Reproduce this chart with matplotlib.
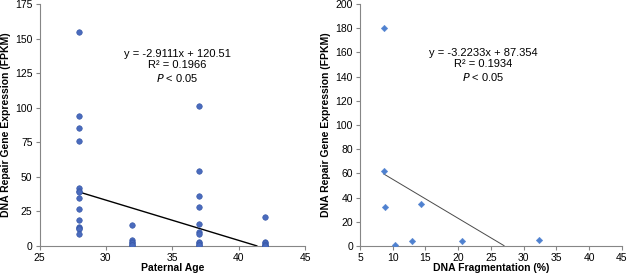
import matplotlib

matplotlib.use("Agg")
import matplotlib.pyplot as plt
import numpy as np

plt.rcParams["font.family"] = ["Liberation Sans", "DejaVu Sans"]

# left panel: paternal age vs expression
age_x = [28] * 14 + [32] * 6 + [37] * 11 + [42] * 6
age_y = [155, 94, 85, 76, 42, 40, 39, 35, 27, 19, 14, 13, 12, 9,
         15, 4, 3, 2, 1, 0.5,
         101, 54, 36, 28, 16, 10, 9, 3, 2, 1, 0.5,
         21, 3, 2, 1, 0.5, 0]
age_fit = (-2.9111, 120.51)

# right panel: DNA fragmentation vs expression
frag_x = [8.7, 8.6, 8.8, 10.4, 12.9, 14.4, 20.6, 32.4]
frag_y = [180, 62, 32, 0.5, 4, 35, 4, 5]
frag_fit = (-3.2233, 87.354)

YLABEL = "DNA Repair Gene Expression (FPKM)"


def style_axes(ax):
    for side in ("top", "right"):
        ax.spines[side].set_visible(False)
    for side in ("left", "bottom"):
        ax.spines[side].set_color("#868686")
        ax.spines[side].set_linewidth(0.8)
    ax.tick_params(direction="out", length=3, width=0.8, color="#868686",
                   labelsize=7.5, pad=2)


def fit_line(x, slope, icpt):
    xs = np.linspace(min(x), max(x), 200)
    ys = slope * xs + icpt
    keep = ys >= 0
    return xs[keep], ys[keep]


fig = plt.figure(figsize=(6.28, 2.75), dpi=100)

ax1 = fig.add_axes([0.0629, 0.1055, 0.4228, 0.88])
ax1.scatter(age_x, age_y, s=16, color="#4a6bbd", edgecolor="#3556a6",
            linewidth=0.4, zorder=3)
lx, ly = fit_line(age_x, *age_fit)
ax1.plot(lx, ly, color="black", lw=1.0, zorder=2)
ax1.set_xlim(25, 45)
ax1.set_ylim(0, 175)
ax1.set_xticks(range(25, 46, 5))
ax1.set_yticks(range(0, 176, 25))
ax1.set_xlabel("Paternal Age", fontsize=7.5, fontweight="bold", labelpad=0)
ax1.set_ylabel(YLABEL, fontsize=7.5, fontweight="bold", labelpad=3)
ax1.text(0.518, 0.742, "y = -2.9111x + 120.51\nR² = 0.1966\n$\\it{P}$ < 0.05",
         transform=ax1.transAxes, ha="center", va="center", fontsize=8,
         linespacing=1.2)
style_axes(ax1)

ax2 = fig.add_axes([0.5732, 0.1055, 0.4168, 0.88])
ax2.scatter(frag_x, frag_y, s=11, marker="D", color="#4f81d0",
            edgecolor="#4f81d0", linewidth=0.3, zorder=3)
lx, ly = fit_line(frag_x, *frag_fit)
ax2.plot(lx, ly, color="#4a4a4a", lw=0.7, zorder=2)
ax2.set_xlim(5, 45)
ax2.set_ylim(0, 200)
ax2.set_xticks(range(5, 46, 5))
ax2.set_yticks(range(0, 201, 20))
ax2.set_xlabel("DNA Fragmentation (%)", fontsize=7.5, fontweight="bold",
               labelpad=0)
ax2.set_ylabel(YLABEL, fontsize=7.5, fontweight="bold", labelpad=3)
ax2.text(0.47, 0.745, "y = -3.2233x + 87.354\nR² = 0.1934\n$\\it{P}$ < 0.05",
         transform=ax2.transAxes, ha="center", va="center", fontsize=8,
         linespacing=1.2)
style_axes(ax2)

fig.savefig("out.png", dpi=100)
